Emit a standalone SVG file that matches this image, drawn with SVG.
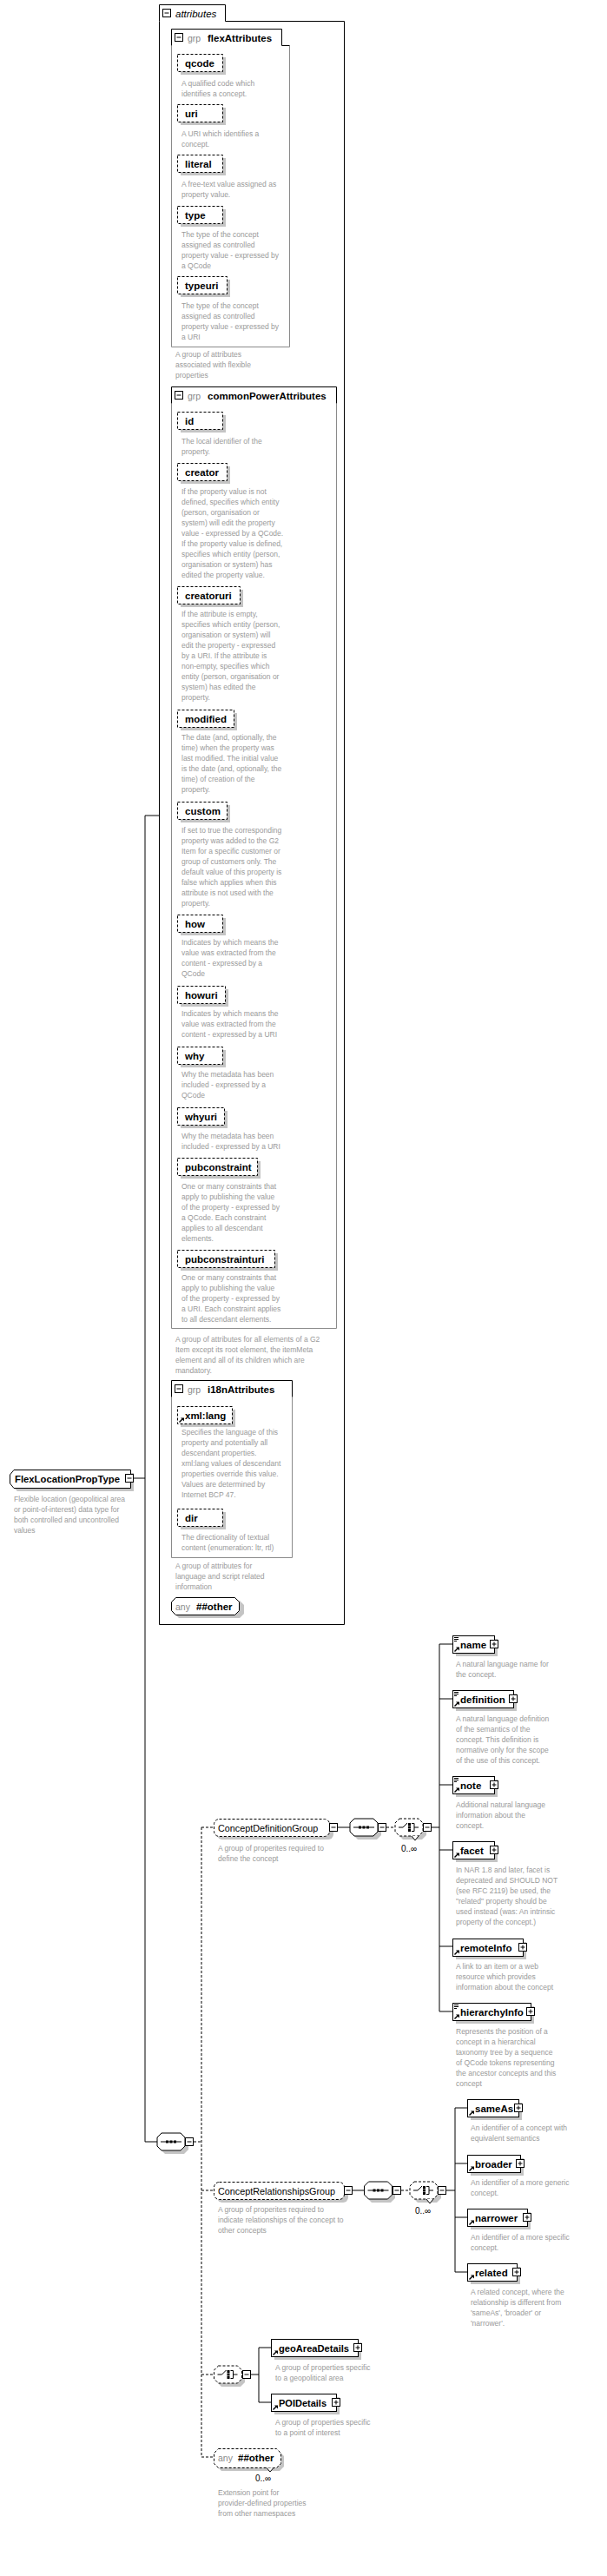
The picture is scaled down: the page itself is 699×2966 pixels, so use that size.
<svg xmlns="http://www.w3.org/2000/svg" width="699" height="2966" viewBox="0 0 699 2966">
<defs>
<style>
text{font-family:"Liberation Sans",Arial,sans-serif}
.d{font-size:8.5px;fill:#9a9a9a}
.b{font-size:11.5px;font-weight:bold;fill:#000}
.r{font-size:10.8px;fill:#000}
.g{font-size:10.5px;fill:#8a8a8a}
.o{font-size:10px;fill:#000}
.bx{fill:#fff;stroke:#000;stroke-width:1}
.da{stroke-dasharray:3 2}
.sh{fill:#c4c4c4;stroke:none}
.gb{fill:none;stroke:#8a8a8a}
.ln{fill:none;stroke:#000;stroke-width:1}
.dl{fill:none;stroke:#000;stroke-width:1;stroke-dasharray:3 2}
</style>
<g id="mi"><rect x="0.5" y="0.5" width="9" height="9" fill="#fff" stroke="#000"/><path d="M2.5 5H7.5" stroke="#000"/></g>
<g id="pl"><rect x="0.5" y="0.5" width="9" height="9" fill="#fff" stroke="#000"/><path d="M2.5 5H7.5M5 2.5V7.5" stroke="#000"/></g>
<g id="rf"><path d="M0.5 6.5L4 3" stroke="#000" stroke-width="1.4"/><path d="M2 1.5H6V5.5Z" fill="#000"/></g>
<g id="dc"><path d="M0 0.5H5M0 2.5H5M0 4.5H3" stroke="#000"/></g>
<polygon id="oct" points="5,0 27,0 32,5 32,15 27,20 5,20 0,15 0,5"/>
<g id="sqi"><path d="M4 0H28" stroke="#000"/><rect x="10" y="-1.5" width="3" height="3" fill="#000"/><rect x="14.5" y="-1.5" width="3" height="3" fill="#000"/><rect x="19" y="-1.5" width="3" height="3" fill="#000"/></g>
<g id="chi"><path d="M4 0H9L14 -5M19 -4.5H22V4.5H19M22 0H27" stroke="#000" fill="none"/><rect x="15" y="-5" width="3" height="3" fill="#000"/><rect x="15" y="-1.5" width="3" height="3" fill="#000"/><rect x="15" y="2" width="3" height="3" fill="#000"/></g>
</defs>
<rect width="699" height="2966" fill="#fff"/>

<g id="connectors">
<path class="ln" d="M154 1702H167M167 939V2466M167 939H183M167 2466H181"/>
<path class="dl" d="M223 2466H232M232 2104V2829M232 2104H246M232 2522H246M232 2734H246M232 2829H246"/>
<path class="ln" d="M389 2104H403"/>
<path class="dl" d="M445 2104H455"/>
<path class="ln" d="M497 2104H506M506 1893V2316M506 1893H521M506 1956H521M506 2055H521M506 2130H521M506 2241H521M506 2316H521"/>
<path class="ln" d="M406 2522H419"/>
<path class="dl" d="M462 2522H472"/>
<path class="ln" d="M514 2522H524M524 2427V2616M524 2427H538M524 2491H538M524 2553H538M524 2616H538"/>
<path class="ln" d="M289 2734H298M298 2703V2766M298 2703H312M298 2766H312"/>
</g>

<g id="FlexLocationPropType">
<polygon class="sh" points="20,1696 154,1696 154,1717 20,1717 15,1712 15,1701"/>
<polygon class="bx" points="16,1692.5 150.5,1692.5 150.5,1713.5 16,1713.5 11.5,1708 11.5,1698"/>
<use href="#mi" x="144" y="1697"/>
<text class="b" x="17" y="1707" textLength="121" lengthAdjust="spacingAndGlyphs">FlexLocationPropType</text>
<text class="d" x="16" y="1729">Flexible location (geopolitical area<tspan x="16" dy="12">or point-of-interest) data type for</tspan><tspan x="16" dy="12">both controlled and uncontrolled</tspan><tspan x="16" dy="12">values</tspan></text>
</g>

<g id="attributes">
<path class="ln" d="M183.5 24.5V5.5H259.5V24.5H396.5V1870.5H183.5Z"/>
<use href="#mi" x="187" y="10"/>
<text x="202" y="19.5" style="font-size:11.5px;font-style:italic;fill:#000">attributes</text>
</g>

<g id="flexAttributes">
<path class="gb" d="M197.5 52.5V399.5H333.5V52.5"/>
<path class="ln" d="M197.5 52.5V33.5H324.5V52.5H333.5"/>
<use href="#mi" x="201" y="38"/>
<text class="g" x="216" y="47.5">grp</text>
<text class="b" x="239" y="48">flexAttributes</text>
<text class="d" x="202" y="411">A group of attributes<tspan x="202" dy="12">associated with flexible</tspan><tspan x="202" dy="12">properties</tspan></text>
</g>
<g id="attr-qcode"><rect class="sh" x="208" y="66" width="52" height="20"/><rect class="bx da" x="204.5" y="62.5" width="52" height="20"/><text class="b" x="213" y="77">qcode</text><text class="d" x="209" y="99">A qualified code which<tspan x="209" dy="12">identifies a concept.</tspan></text></g>
<g id="attr-uri"><rect class="sh" x="208" y="124" width="52" height="20"/><rect class="bx da" x="204.5" y="120.5" width="52" height="20"/><text class="b" x="213" y="135">uri</text><text class="d" x="209" y="157">A URI which identifies a<tspan x="209" dy="12">concept.</tspan></text></g>
<g id="attr-literal"><rect class="sh" x="208" y="182" width="52" height="20"/><rect class="bx da" x="204.5" y="178.5" width="52" height="20"/><text class="b" x="213" y="193">literal</text><text class="d" x="209" y="215">A free-text value assigned as<tspan x="209" dy="12">property value.</tspan></text></g>
<g id="attr-type"><rect class="sh" x="208" y="241" width="52" height="20"/><rect class="bx da" x="204.5" y="237.5" width="52" height="20"/><text class="b" x="213" y="252">type</text><text class="d" x="209" y="273">The type of the concept<tspan x="209" dy="12">assigned as controlled</tspan><tspan x="209" dy="12">property value - expressed by</tspan><tspan x="209" dy="12">a QCode</tspan></text></g>
<g id="attr-typeuri"><rect class="sh" x="208" y="322" width="57" height="20"/><rect class="bx da" x="204.5" y="318.5" width="57" height="20"/><text class="b" x="213" y="333">typeuri</text><text class="d" x="209" y="355">The type of the concept<tspan x="209" dy="12">assigned as controlled</tspan><tspan x="209" dy="12">property value - expressed by</tspan><tspan x="209" dy="12">a URI</tspan></text></g>

<g id="commonPowerAttributes">
<path class="gb" d="M197.5 464.5V1529.5H387.5V464.5"/>
<path class="ln" d="M197.5 464.5V445.5H387.5V464.5"/>
<use href="#mi" x="201" y="450"/>
<text class="g" x="216" y="459.5">grp</text>
<text class="b" x="239" y="460">commonPowerAttributes</text>
<text class="d" x="202" y="1545">A group of attributes for all elements of a G2<tspan x="202" dy="12">Item except its root element, the itemMeta</tspan><tspan x="202" dy="12">element and all of its children which are</tspan><tspan x="202" dy="12">mandatory.</tspan></text>
</g>
<g id="attr-id"><rect class="sh" x="208" y="478" width="52" height="20"/><rect class="bx da" x="204.5" y="474.5" width="52" height="20"/><text class="b" x="213" y="489">id</text><text class="d" x="209" y="511">The local identifier of the<tspan x="209" dy="12">property.</tspan></text></g>
<g id="attr-creator"><rect class="sh" x="208" y="537" width="57" height="20"/><rect class="bx da" x="204.5" y="533.5" width="57" height="20"/><text class="b" x="213" y="548">creator</text><text class="d" x="209" y="569">If the property value is not<tspan x="209" dy="12">defined, specifies which entity</tspan><tspan x="209" dy="12">(person, organisation or</tspan><tspan x="209" dy="12">system) will edit the property</tspan><tspan x="209" dy="12">value - expressed by a QCode.</tspan><tspan x="209" dy="12">If the property value is defined,</tspan><tspan x="209" dy="12">specifies which entity (person,</tspan><tspan x="209" dy="12">organisation or system) has</tspan><tspan x="209" dy="12">edited the property value.</tspan></text></g>
<g id="attr-creatoruri"><rect class="sh" x="208" y="679" width="72" height="20"/><rect class="bx da" x="204.5" y="675.5" width="72" height="20"/><text class="b" x="213" y="690">creatoruri</text><text class="d" x="209" y="710">If the attribute is empty,<tspan x="209" dy="12">specifies which entity (person,</tspan><tspan x="209" dy="12">organisation or system) will</tspan><tspan x="209" dy="12">edit the property - expressed</tspan><tspan x="209" dy="12">by a URI. If the attribute is</tspan><tspan x="209" dy="12">non-empty, specifies which</tspan><tspan x="209" dy="12">entity (person, organisation or</tspan><tspan x="209" dy="12">system) has edited the</tspan><tspan x="209" dy="12">property.</tspan></text></g>
<g id="attr-modified"><rect class="sh" x="208" y="821" width="65" height="20"/><rect class="bx da" x="204.5" y="817.5" width="65" height="20"/><text class="b" x="213" y="832">modified</text><text class="d" x="209" y="852">The date (and, optionally, the<tspan x="209" dy="12">time) when the property was</tspan><tspan x="209" dy="12">last modified. The initial value</tspan><tspan x="209" dy="12">is the date (and, optionally, the</tspan><tspan x="209" dy="12">time) of creation of the</tspan><tspan x="209" dy="12">property.</tspan></text></g>
<g id="attr-custom"><rect class="sh" x="208" y="927" width="57" height="20"/><rect class="bx da" x="204.5" y="923.5" width="57" height="20"/><text class="b" x="213" y="938">custom</text><text class="d" x="209" y="959">If set to true the corresponding<tspan x="209" dy="12">property was added to the G2</tspan><tspan x="209" dy="12">Item for a specific customer or</tspan><tspan x="209" dy="12">group of customers only. The</tspan><tspan x="209" dy="12">default value of this property is</tspan><tspan x="209" dy="12">false which applies when this</tspan><tspan x="209" dy="12">attribute is not used with the</tspan><tspan x="209" dy="12">property.</tspan></text></g>
<g id="attr-how"><rect class="sh" x="208" y="1057" width="52" height="20"/><rect class="bx da" x="204.5" y="1053.5" width="52" height="20"/><text class="b" x="213" y="1068">how</text><text class="d" x="209" y="1088">Indicates by which means the<tspan x="209" dy="12">value was extracted from the</tspan><tspan x="209" dy="12">content - expressed by a</tspan><tspan x="209" dy="12">QCode</tspan></text></g>
<g id="attr-howuri"><rect class="sh" x="208" y="1139" width="55" height="20"/><rect class="bx da" x="204.5" y="1135.5" width="55" height="20"/><text class="b" x="213" y="1150">howuri</text><text class="d" x="209" y="1170">Indicates by which means the<tspan x="209" dy="12">value was extracted from the</tspan><tspan x="209" dy="12">content - expressed by a URI</tspan></text></g>
<g id="attr-why"><rect class="sh" x="208" y="1209" width="52" height="20"/><rect class="bx da" x="204.5" y="1205.5" width="52" height="20"/><text class="b" x="213" y="1220">why</text><text class="d" x="209" y="1240">Why the metadata has been<tspan x="209" dy="12">included - expressed by a</tspan><tspan x="209" dy="12">QCode</tspan></text></g>
<g id="attr-whyuri"><rect class="sh" x="208" y="1279" width="54" height="20"/><rect class="bx da" x="204.5" y="1275.5" width="54" height="20"/><text class="b" x="213" y="1290">whyuri</text><text class="d" x="209" y="1311">Why the metadata has been<tspan x="209" dy="12">included - expressed by a URI</tspan></text></g>
<g id="attr-pubconstraint"><rect class="sh" x="208" y="1337" width="92" height="20"/><rect class="bx da" x="204.5" y="1333.5" width="92" height="20"/><text class="b" x="213" y="1348">pubconstraint</text><text class="d" x="209" y="1369">One or many constraints that<tspan x="209" dy="12">apply to publishing the value</tspan><tspan x="209" dy="12">of the property - expressed by</tspan><tspan x="209" dy="12">a QCode. Each constraint</tspan><tspan x="209" dy="12">applies to all descendant</tspan><tspan x="209" dy="12">elements.</tspan></text></g>
<g id="attr-pubconstrainturi"><rect class="sh" x="208" y="1443" width="112" height="20"/><rect class="bx da" x="204.5" y="1439.5" width="112" height="20"/><text class="b" x="213" y="1454">pubconstrainturi</text><text class="d" x="209" y="1474">One or many constraints that<tspan x="209" dy="12">apply to publishing the value</tspan><tspan x="209" dy="12">of the property - expressed by</tspan><tspan x="209" dy="12">a URI. Each constraint applies</tspan><tspan x="209" dy="12">to all descendant elements.</tspan></text></g>

<g id="i18nAttributes">
<path class="gb" d="M197.5 1608.5V1793.5H336.5V1608.5"/>
<path class="ln" d="M197.5 1608.5V1589.5H336.5V1608.5"/>
<use href="#mi" x="201" y="1594"/>
<text class="g" x="216" y="1603.5">grp</text>
<text class="b" x="239" y="1604">i18nAttributes</text>
<text class="d" x="202" y="1806">A group of attributes for<tspan x="202" dy="12">language and script related</tspan><tspan x="202" dy="12">information</tspan></text>
</g>
<g id="attr-xmllang"><rect class="sh" x="208" y="1623" width="63" height="20"/><rect class="bx da" x="204.5" y="1619.5" width="63" height="20"/><use href="#rf" x="206" y="1631"/><text class="b" x="213" y="1634">xml:lang</text><text class="d" x="209" y="1652">Specifies the language of this<tspan x="209" dy="12">property and potentially all</tspan><tspan x="209" dy="12">descendant properties.</tspan><tspan x="209" dy="12">xml:lang values of descendant</tspan><tspan x="209" dy="12">properties override this value.</tspan><tspan x="209" dy="12">Values are determined by</tspan><tspan x="209" dy="12">Internet BCP 47.</tspan></text></g>
<g id="attr-dir"><rect class="sh" x="208" y="1741" width="52" height="20"/><rect class="bx da" x="204.5" y="1737.5" width="52" height="20"/><text class="b" x="213" y="1752">dir</text><text class="d" x="209" y="1773">The directionality of textual<tspan x="209" dy="12">content (enumeration: ltr, rtl)</tspan></text></g>
<g id="any-attr">
<polygon class="sh" points="206,1843 276,1843 281,1848 281,1858 276,1863 206,1863 201,1858 201,1848"/>
<polygon class="bx" points="202.5,1839.5 270.5,1839.5 275.5,1844.5 275.5,1854.5 270.5,1859.5 202.5,1859.5 197.5,1854.5 197.5,1844.5"/>
<text class="g" x="202" y="1853.5">any</text>
<text class="b" x="226" y="1853.5">##other</text>
</g>

<g id="sequence-main">
<use href="#oct" x="185" y="2460" class="sh"/>
<use href="#oct" x="181" y="2456" class="bx"/>
<use href="#sqi" x="181" y="2466"/>
<use href="#mi" x="213" y="2461"/>
</g>

<g id="ConceptDefinitionGroup">
<rect class="sh" x="250" y="2098" width="134" height="20" rx="6"/>
<rect class="bx da" x="246.5" y="2094.5" width="133" height="20" rx="6"/>
<text class="r" x="251" y="2109">ConceptDefinitionGroup</text>
<use href="#mi" x="379" y="2099"/>
<text class="d" x="251" y="2131">A group of properites required to<tspan x="251" dy="12">define the concept</tspan></text>
</g>
<g id="cdg-sequence">
<use href="#oct" x="407" y="2098" class="sh"/>
<use href="#oct" x="403" y="2094" class="bx"/>
<use href="#sqi" x="403" y="2104"/>
<use href="#mi" x="435" y="2099"/>
</g>
<g id="cdg-choice">
<use href="#oct" x="459" y="2098" class="sh"/>
<use href="#oct" x="455" y="2094" class="bx da"/>
<path d="M474 2114L478 2119L482 2114" fill="#fff" stroke="#000" stroke-width="1"/>
<use href="#chi" x="455" y="2104"/>
<use href="#mi" x="487" y="2099"/>
<text class="o" x="462" y="2132">0..∞</text>
</g>
<g id="el-name"><rect class="sh" x="525" y="1887" width="48" height="20"/><rect class="bx" x="521.5" y="1883.5" width="48" height="20"/><use href="#dc" x="523" y="1885"/><use href="#rf" x="523" y="1895"/><text class="b" x="530" y="1898">name</text><use href="#pl" x="564" y="1888"/><text class="d" x="525" y="1919">A natural language name for<tspan x="525" dy="12">the concept.</tspan></text></g>
<g id="el-definition"><rect class="sh" x="525" y="1950" width="70" height="20"/><rect class="bx" x="521.5" y="1946.5" width="70" height="20"/><use href="#dc" x="523" y="1948"/><use href="#rf" x="523" y="1958"/><text class="b" x="530" y="1961">definition</text><use href="#pl" x="586" y="1951"/><text class="d" x="525" y="1982">A natural language definition<tspan x="525" dy="12">of the semantics of the</tspan><tspan x="525" dy="12">concept. This definition is</tspan><tspan x="525" dy="12">normative only for the scope</tspan><tspan x="525" dy="12">of the use of this concept.</tspan></text></g>
<g id="el-note"><rect class="sh" x="525" y="2049" width="48" height="20"/><rect class="bx" x="521.5" y="2045.5" width="48" height="20"/><use href="#dc" x="523" y="2047"/><use href="#rf" x="523" y="2057"/><text class="b" x="530" y="2060">note</text><use href="#pl" x="564" y="2050"/><text class="d" x="525" y="2081">Additional natural language<tspan x="525" dy="12">information about the</tspan><tspan x="525" dy="12">concept.</tspan></text></g>
<g id="el-facet"><rect class="sh" x="525" y="2124" width="48" height="20"/><rect class="bx" x="521.5" y="2120.5" width="48" height="20"/><use href="#rf" x="523" y="2132"/><text class="b" x="530" y="2135">facet</text><use href="#pl" x="564" y="2125"/><text class="d" x="525" y="2156">In NAR 1.8 and later, facet is<tspan x="525" dy="12">deprecated and SHOULD NOT</tspan><tspan x="525" dy="12">(see RFC 2119) be used, the</tspan><tspan x="525" dy="12">"related" property should be</tspan><tspan x="525" dy="12">used instead (was: An intrinsic</tspan><tspan x="525" dy="12">property of the concept.)</tspan></text></g>
<g id="el-remoteInfo"><rect class="sh" x="525" y="2236" width="81" height="20"/><rect class="bx" x="521.5" y="2232.5" width="81" height="20"/><use href="#rf" x="523" y="2244"/><text class="b" x="530" y="2247">remoteInfo</text><use href="#pl" x="597" y="2237"/><text class="d" x="525" y="2267">A link to an item or a web<tspan x="525" dy="12">resource which provides</tspan><tspan x="525" dy="12">information about the concept</tspan></text></g>
<g id="el-hierarchyInfo"><rect class="sh" x="525" y="2310" width="90" height="20"/><rect class="bx" x="521.5" y="2306.5" width="90" height="20"/><use href="#dc" x="523" y="2308"/><use href="#rf" x="523" y="2318"/><text class="b" x="530" y="2321">hierarchyInfo</text><use href="#pl" x="606" y="2311"/><text class="d" x="525" y="2342">Represents the position of a<tspan x="525" dy="12">concept in a hierarchical</tspan><tspan x="525" dy="12">taxonomy tree by a sequence</tspan><tspan x="525" dy="12">of QCode tokens representing</tspan><tspan x="525" dy="12">the ancestor concepts and this</tspan><tspan x="525" dy="12">concept</tspan></text></g>

<g id="ConceptRelationshipsGroup">
<rect class="sh" x="250" y="2516" width="151" height="20" rx="6"/>
<rect class="bx da" x="246.5" y="2512.5" width="150" height="20" rx="6"/>
<text class="r" x="251" y="2527">ConceptRelationshipsGroup</text>
<use href="#mi" x="396" y="2517"/>
<text class="d" x="251" y="2547">A group of properites required to<tspan x="251" dy="12">indicate relationships of the concept to</tspan><tspan x="251" dy="12">other concepts</tspan></text>
</g>
<g id="crg-sequence">
<use href="#oct" x="423" y="2516" class="sh"/>
<use href="#oct" x="419.5" y="2512" class="bx"/>
<use href="#sqi" x="419.5" y="2522"/>
<use href="#mi" x="452" y="2517"/>
</g>
<g id="crg-choice">
<use href="#oct" x="476" y="2516" class="sh"/>
<use href="#oct" x="472" y="2512" class="bx da"/>
<path d="M491 2532L495 2537L499 2532" fill="#fff" stroke="#000" stroke-width="1"/>
<use href="#chi" x="472" y="2522"/>
<use href="#mi" x="504" y="2517"/>
<text class="o" x="478" y="2549">0..∞</text>
</g>
<g id="el-sameAs"><rect class="sh" x="542" y="2421" width="59" height="20"/><rect class="bx" x="538.5" y="2417.5" width="59" height="20"/><use href="#rf" x="540" y="2429"/><text class="b" x="547" y="2432">sameAs</text><use href="#pl" x="592" y="2422"/><text class="d" x="542" y="2453">An identifier of a concept with<tspan x="542" dy="12">equivalent semantics</tspan></text></g>
<g id="el-broader"><rect class="sh" x="542" y="2485" width="61" height="20"/><rect class="bx" x="538.5" y="2481.5" width="61" height="20"/><use href="#rf" x="540" y="2493"/><text class="b" x="547" y="2496">broader</text><use href="#pl" x="594" y="2486"/><text class="d" x="542" y="2516">An identifier of a more generic<tspan x="542" dy="12">concept.</tspan></text></g>
<g id="el-narrower"><rect class="sh" x="542" y="2547" width="69" height="20"/><rect class="bx" x="538.5" y="2543.5" width="69" height="20"/><use href="#rf" x="540" y="2555"/><text class="b" x="547" y="2558">narrower</text><use href="#pl" x="602" y="2548"/><text class="d" x="542" y="2579">An identifier of a more specific<tspan x="542" dy="12">concept.</tspan></text></g>
<g id="el-related"><rect class="sh" x="542" y="2610" width="57" height="20"/><rect class="bx" x="538.5" y="2606.5" width="57" height="20"/><use href="#rf" x="540" y="2618"/><text class="b" x="547" y="2621">related</text><use href="#pl" x="590" y="2611"/><text class="d" x="542" y="2642">A related concept, where the<tspan x="542" dy="12">relationship is different from</tspan><tspan x="542" dy="12">'sameAs', 'broader' or</tspan><tspan x="542" dy="12">'narrower'.</tspan></text></g>

<g id="location-choice">
<use href="#oct" x="250" y="2728" class="sh"/>
<use href="#oct" x="246.5" y="2724" class="bx da"/>
<use href="#chi" x="246.5" y="2734"/>
<use href="#mi" x="279" y="2729"/>
</g>
<g id="el-geoAreaDetails"><rect class="sh" x="316" y="2697" width="100" height="20"/><rect class="bx" x="312.5" y="2693.5" width="100" height="20"/><use href="#rf" x="314" y="2705"/><text class="b" x="321" y="2708" textLength="81" lengthAdjust="spacingAndGlyphs">geoAreaDetails</text><use href="#pl" x="407" y="2698"/><text class="d" x="317" y="2729">A group of properties specific<tspan x="317" dy="12">to a geopolitical area</tspan></text></g>
<g id="el-POIDetails"><rect class="sh" x="316" y="2760" width="75" height="20"/><rect class="bx" x="312.5" y="2756.5" width="75" height="20"/><use href="#rf" x="314" y="2768"/><text class="b" x="321" y="2771" textLength="55" lengthAdjust="spacingAndGlyphs">POIDetails</text><use href="#pl" x="382" y="2761"/><text class="d" x="317" y="2792">A group of properties specific<tspan x="317" dy="12">to a point of interest</tspan></text></g>

<g id="any-element">
<polygon class="sh" points="255,2823 322,2823 327,2828 327,2840 322,2845 255,2845 250,2840 250,2828"/>
<polygon class="bx da" points="251.5,2819.5 318.5,2819.5 323.5,2824.5 323.5,2836.5 318.5,2841.5 251.5,2841.5 246.5,2836.5 246.5,2824.5"/>
<path d="M307 2841.5L311 2846L315 2841.5" fill="#fff" stroke="#000" stroke-width="1"/>
<text class="g" x="251" y="2833.5">any</text>
<text class="b" x="274" y="2833.5">##other</text>
<text class="o" x="294" y="2857">0..∞</text>
<text class="d" x="251" y="2873">Extension point for<tspan x="251" dy="12">provider-defined properties</tspan><tspan x="251" dy="12">from other namespaces</tspan></text>
</g>
</svg>
